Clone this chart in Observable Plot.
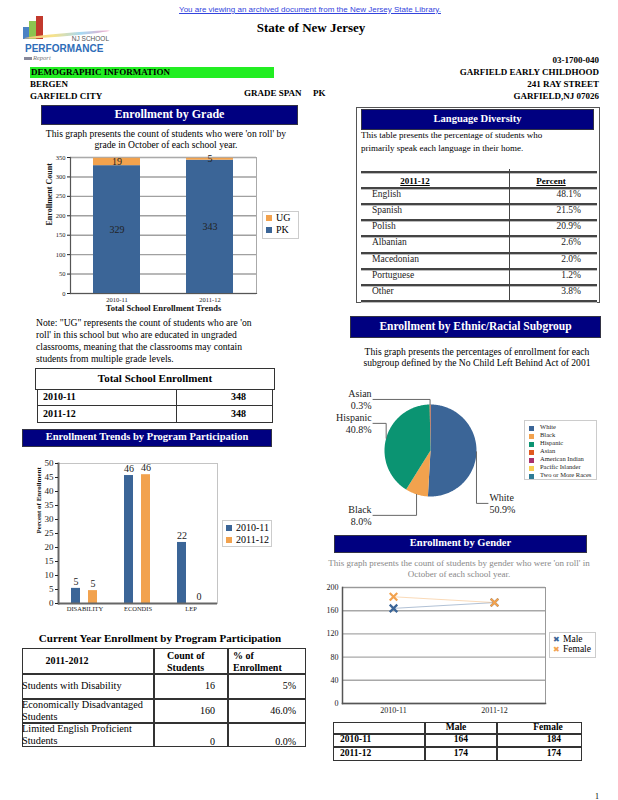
<!DOCTYPE html>
<html><head><meta charset="utf-8">
<script src="https://cdn.jsdelivr.net/npm/d3@7"></script>
<script src="https://cdn.jsdelivr.net/npm/@observablehq/plot@0.6"></script>
<style>
html,body{margin:0;padding:0;background:#fff;}
#page{position:relative;width:618px;height:800px;overflow:hidden;font-family:"Liberation Serif",serif;}
</style></head><body><div id="page"></div>
<script>
// ---------------- data ----------------
const gradeYears = ["2010-11", "2011-12"];
const gradeNames = ["PK", "UG"];
const gradePK = [329, 343];
const gradeUG = [19, 5];
const gradeTicks = [0, 50, 100, 150, 200, 250, 300, 350];

const totalYears = ["2010-11", "2011-12"];
const totalEnrollment = [348, 348];

const programs = ["DISABILITY", "ECONDIS", "LEP"];
const programYears = ["2010-11", "2011-12"];
const program2010 = [5.4, 45.7, 21.8];
const program2011 = [4.6, 46.0, 0];
const programTicks = [0, 5, 10, 15, 20, 25, 30, 35, 40, 45, 50];

const currentRowLabels = [["Students with Disability"], ["Economically Disadvantaged", "Students"], ["Limited English Proficient", "Students"]];
const currentCounts = [16, 160, 0];
const currentPercents = ["5%", "46.0%", "0.0%"];

const languages = ["English", "Spanish", "Polish", "Albanian", "Macedonian", "Portuguese", "Other"];
const languagePercents = ["48.1%", "21.5%", "20.9%", "2.6%", "2.0%", "1.2%", "3.8%"];

const ethnicGroups = ["White", "Black", "Hispanic", "Asian", "American Indian", "Pacific Islander", "Two or More Races"];
const ethnicPercents = [50.9, 8.0, 40.8, 0.3, 0, 0, 0];
const ethnicColors = ["#3b6597", "#f2a24e", "#0b9472", "#e0591f", "#a8306e", "#f7cf52", "#2e7b95"];

const genderYears = ["2010-11", "2011-12"];
const genderNames = ["Male", "Female"];
const maleCounts = [164, 174];
const femaleCounts = [184, 174];
const genderTicks = [0, 40, 80, 120, 160, 200];

// ---------------- style ----------------
const SERIF = '"Liberation Serif", "DejaVu Serif", serif';
const SANS = '"Liberation Sans", Arial, sans-serif';
const BLUE = "#3b6597", ORANGE = "#f2a24e", NAVY = "#000080";
const page = document.getElementById("page");

function T(text, x, y, o = {}) {
  const d = document.createElement("div");
  d.textContent = text;
  const S = o.size || 9;
  Object.assign(d.style, {
    position: "absolute", whiteSpace: "nowrap", fontFamily: o.font || SERIF,
    fontSize: S + "px", fontWeight: o.bold ? "bold" : "normal", fontStyle: o.italic ? "italic" : "normal",
    color: o.color || "#000", lineHeight: "1", top: (y - S * 0.55) + "px",
    textDecoration: o.underline ? "underline" : "none"
  });
  const a = o.anchor || "start";
  if (a === "start") d.style.left = x + "px";
  else if (a === "end") d.style.right = (618 - x) + "px";
  else { d.style.left = x + "px"; d.style.transform = "translateX(-50%)"; }
  page.appendChild(d);
  return d;
}
function R(x, y, w, h, st = {}) {
  const d = document.createElement("div");
  Object.assign(d.style, {position: "absolute", left: x + "px", top: y + "px", width: w + "px", height: h + "px", boxSizing: "border-box"}, st);
  page.appendChild(d);
  return d;
}
function place(node, x, y) {
  const d = document.createElement("div");
  Object.assign(d.style, {position: "absolute", left: x + "px", top: y + "px"});
  d.appendChild(node);
  page.appendChild(d);
}
function header(x, y, w, h, text, size) {
  R(x, y, w, h, {background: NAVY, border: "1px solid #334"});
  T(text, x + w / 2, y + h / 2, {size, bold: true, color: "#fff", anchor: "middle"});
}
const plotStyle = {fontFamily: SERIF, color: "#222", background: "transparent", overflow: "visible"};

// ---------------- page header ----------------
T("You are viewing an archived document from the New Jersey State Library.", 310, 10, {size: 8, font: SANS, color: "#3344dd", anchor: "middle", underline: true});
T("State of New Jersey", 311, 28, {size: 13, bold: true, anchor: "middle"});
// logo
R(23, 27, 6, 12, {background: "#4b82c4"});
R(29, 21, 7, 18, {background: "#8cc450"});
R(36, 16, 7, 23, {background: "#c2392d"});
R(24, 33, 86, 3, {background: "linear-gradient(90deg,#f5c07a,#f7e28a,#a6d8f2,#f2a8c8)", borderRadius: "50%", transform: "rotate(-5deg)"});
T("NJ SCHOOL", 109, 40, {size: 6.5, font: SANS, color: "#555", anchor: "end"});
T("PERFORMANCE", 25, 49.5, {size: 10, font: SANS, bold: true, color: "#2f6db8"});
T("Report", 33, 59, {size: 6.5, italic: true, color: "#777"});
R(24, 57, 8, 3, {background: "#889"});

R(30, 67, 244, 11, {background: "#22ee22"});
T("DEMOGRAPHIC INFORMATION", 31, 72.5, {size: 9, bold: true});
T("BERGEN", 30, 85, {size: 9, bold: true});
T("GARFIELD CITY", 30, 97, {size: 9, bold: true});
T("GRADE SPAN", 244, 94, {size: 9, bold: true});
T("PK", 313, 94, {size: 9, bold: true});
T("03-1700-040", 599, 61, {size: 9, bold: true, anchor: "end"});
T("GARFIELD EARLY CHILDHOOD", 599, 73, {size: 9, bold: true, anchor: "end"});
T("241 RAY STREET", 599, 85, {size: 9, bold: true, anchor: "end"});
T("GARFIELD,NJ 07026", 599, 97, {size: 9, bold: true, anchor: "end"});

// ---------------- Enrollment by Grade ----------------
header(41, 105, 257, 20, "Enrollment by Grade", 12);
T("This graph presents the count of students who were 'on roll' by", 166, 134, {size: 9.6, anchor: "middle"});
T("grade in October of each school year.", 166, 145.5, {size: 9.6, anchor: "middle"});

const gradeData = [];
gradeYears.forEach((yr, i) => {
  gradeData.push({year: yr, grade: "PK", count: gradePK[i]});
  gradeData.push({year: yr, grade: "UG", count: gradeUG[i]});
});
const gradeChart = Plot.plot({
  width: 235, height: 170, marginLeft: 40, marginRight: 9, marginTop: 7, marginBottom: 27,
  style: plotStyle,
  x: {domain: gradeYears, paddingInner: 0.5, paddingOuter: 0.25},
  y: {domain: [0, 350]},
  color: {domain: gradeNames, range: [BLUE, ORANGE]},
  marks: [
    Plot.gridY(gradeTicks, {stroke: "#a0a0a0", strokeOpacity: 1, strokeWidth: 1.4}),
    Plot.frame({stroke: "#aaa"}),
    Plot.barY(gradeData, {x: "year", y: "count", fill: "grade"}),
    Plot.text(gradeData, Plot.stackY({x: "year", y: "count", text: "count", fontSize: 10, fill: "#222"})),
    Plot.frame({anchor: "left", stroke: "#555", strokeWidth: 1.2}),
    Plot.frame({anchor: "bottom", stroke: "#555", strokeWidth: 1.2}),
    Plot.axisY(gradeTicks, {fontSize: 6.5, tickSize: 3, tickPadding: 2, label: null}),
    Plot.axisX({fontSize: 6.5, tickSize: 0, tickPadding: 4, label: null}),
    Plot.text(["Enrollment Count"], {frameAnchor: "left", rotate: -90, dx: -21, fontSize: 8, fontWeight: "bold", fill: "#111", text: d => d}),
    Plot.text(["Total School Enrollment Trends"], {frameAnchor: "bottom", dy: 17, fontSize: 8.5, fontWeight: "bold", fill: "#111", text: d => d})
  ]
});
place(gradeChart, 30, 150);
R(262, 211, 37, 28, {border: "1px solid #ccc", background: "#fff"});
R(266, 215, 6, 6, {background: ORANGE});
T("UG", 276, 218.5, {size: 10});
R(266, 227, 6, 6, {background: BLUE});
T("PK", 276, 230.5, {size: 10});

T("Note: \"UG\" represents the count of students who are 'on", 36, 323, {size: 9.6});
T("roll' in this school but who are educated in ungraded", 36, 335, {size: 9.6});
T("classrooms, meaning that the classrooms may contain", 36, 347, {size: 9.6});
T("students from multiple grade levels.", 36, 359, {size: 9.6});

// ---------------- Total School Enrollment table ----------------
R(35, 368, 240, 22, {border: "1.5px solid #333"});
T("Total School Enrollment", 155, 379, {size: 11, bold: true, anchor: "middle"});
const totalRowTops = [389, 405];
totalYears.forEach((yr, i) => {
  const top = totalRowTops[i], h = i === 0 ? 17 : 18;
  R(37, top, 140, h, {border: "1.5px solid #333"});
  R(175.5, top, 97, h, {border: "1.5px solid #333"});
  T(yr, 43, top + h / 2, {size: 10, bold: true});
  T(String(totalEnrollment[i]), 246, top + h / 2, {size: 10, bold: true, anchor: "end"});
});

// ---------------- Enrollment Trends by Program Participation ----------------
header(22, 429, 250, 18, "Enrollment Trends by Program Participation", 10.5);
const programData = [];
programs.forEach((p, i) => {
  programData.push({program: p, year: programYears[0], value: program2010[i]});
  programData.push({program: p, year: programYears[1], value: program2011[i]});
});
const programChart = Plot.plot({
  width: 200, height: 160, marginLeft: 37, marginRight: 3, marginTop: 8, marginBottom: 12,
  style: plotStyle,
  fx: {domain: programs, padding: 0},
  x: {domain: programYears, paddingInner: 0.45, paddingOuter: 0.7, axis: null},
  y: {domain: [0, 50]},
  color: {domain: programYears, range: [BLUE, ORANGE]},
  marks: [
    Plot.frame({facet: "super", stroke: "#c4c4c4"}),
    Plot.barY(programData, {fx: "program", x: "year", y: "value", fill: "year"}),
    Plot.text(programData, {fx: "program", x: "year", y: "value", text: d => String(Math.round(d.value)), dy: -7, fontSize: 10, fill: "#222"}),
    Plot.ruleY([0], {stroke: "#666", strokeWidth: 2}),
    Plot.frame({facet: "super", anchor: "left", stroke: "#666", strokeWidth: 2}),
    Plot.axisY(programTicks, {fontSize: 9, tickSize: 3, tickPadding: 2, label: null}),
    Plot.axisFx({anchor: "bottom", fontSize: 6.5, tickSize: 0, tickPadding: 3, label: null}),
    Plot.text(["Percent of Enrollment"], {facet: "super", frameAnchor: "left", rotate: -90, dx: -20, fontSize: 7, fontWeight: "bold", fill: "#111", text: d => d})
  ]
});
place(programChart, 20, 455);
R(222, 520, 50, 27, {border: "1px solid #ccc", background: "#fff"});
R(226, 525, 6, 6, {background: BLUE});
T("2010-11", 236, 528, {size: 10});
R(226, 537, 6, 6, {background: ORANGE});
T("2011-12", 236, 540, {size: 10});

// ---------------- Current Year Enrollment table ----------------
T("Current Year Enrollment by Program Participation", 160, 639, {size: 11, bold: true, anchor: "middle"});
const cx = [22, 154, 228, 306];
const cy = [648, 674, 699, 723, 747];
R(22, 648, 284, 99, {border: "1.5px solid #333"});
cy.slice(1, 4).forEach(y => R(22, y - 0.75, 284, 1.5, {background: "#333"}));
cx.slice(1, 3).forEach(x => R(x - 0.75, 648, 1.5, 99, {background: "#333"}));
T("2011-2012", 67, 661, {size: 10, bold: true, anchor: "middle"});
T("Count of", 167, 656, {size: 10, bold: true});
T("Students", 167, 668.5, {size: 10, bold: true});
T("% of", 233, 656, {size: 10, bold: true});
T("Enrollment", 233, 668.5, {size: 10, bold: true});
currentRowLabels.forEach((lines, i) => {
  const top = cy[i + 1], bot = cy[i + 2], mid = (top + bot) / 2;
  if (lines.length === 1) T(lines[0], 22, 687, {size: 10.3});
  else { T(lines[0], 22, top + 6.5, {size: 10.3}); T(lines[1], 22, top + 18.5, {size: 10.3}); }
  const vy = i === 0 ? 686 : (i === 1 ? mid : 742);
  T(String(currentCounts[i]), 215, vy, {size: 10, anchor: "end"});
  T(currentPercents[i], 296, vy, {size: 10, anchor: "end"});
});

// ---------------- Language Diversity ----------------
R(356, 107, 244, 196, {border: "1.5px solid #555"});
header(361, 109, 233, 21, "Language Diversity", 10.5);
T("This table presents the percentage of students who", 361, 136, {size: 9});
T("primarily speak each language in their home.", 361, 149, {size: 9});
const langLines = [172, 188, 204, 220, 236, 253, 269, 285, 301];
langLines.forEach(y => R(361, y - 1, 236, 2, {background: "#444", boxShadow: "0 1px 0 #bbb"}));
R(508.5, 169, 1.5, 132, {background: "#444"});
T("2011-12", 415, 182, {size: 9, bold: true, anchor: "middle", underline: true});
T("Percent", 551, 182, {size: 9, bold: true, anchor: "middle", underline: true});
languages.forEach((lang, i) => {
  const mid = (langLines[i + 1] + langLines[i + 2]) / 2;
  T(lang, 372, mid - 1, {size: 9.5, color: "#222"});
  T(languagePercents[i], 581, mid - 1, {size: 9.5, anchor: "end", color: "#222"});
});

// ---------------- Ethnic / Racial ----------------
header(350, 316, 251, 22, "Enrollment by Ethnic/Racial Subgroup", 11.5);
T("This graph presents the percentages of enrollment for each", 477, 352, {size: 9.6, anchor: "middle"});
T("subgroup defined by the No Child Left Behind Act of 2001", 477, 363.5, {size: 9.6, anchor: "middle"});

const ethnicData = ethnicGroups.map((g, i) => ({group: g, pct: ethnicPercents[i]}));
const arcs = d3.pie().sort(null).value(d => d.pct)(ethnicData).filter(a => a.data.pct > 0);
const piePts = [];
arcs.forEach(a => {
  const n = Math.max(2, Math.ceil((a.endAngle - a.startAngle) / (Math.PI / 180)));
  piePts.push({group: a.data.group, x: 0, y: 0});
  for (let k = 0; k <= n; k++) {
    const t = a.startAngle + (a.endAngle - a.startAngle) * k / n;
    piePts.push({group: a.data.group, x: Math.sin(t), y: Math.cos(t)});
  }
  piePts.push({group: a.data.group, x: 0, y: 0});
});
// label layout (side of the pie, height of the label in radii)
const pieLabelLayout = {White: {side: 1, ly: -1.15}, Black: {side: -1, ly: -1.41}, Hispanic: {side: -1, ly: 0.59}, Asian: {side: -1, ly: 1.11}};
const leaderPts = [], pieLabels = [];
arcs.forEach(a => {
  const g = a.data.group, L = pieLabelLayout[g];
  if (!L) return;
  const m = (a.startAngle + a.endAngle) / 2;
  const ax = Math.sin(m), ay = Math.cos(m);
  const end = L.side * 1.25;
  let pts;
  if (Math.abs(L.ly) > Math.abs(ay) && Math.sign(L.ly) === Math.sign(ay)) pts = [[ax, ay], [ax, L.ly], [end, L.ly]];
  else pts = [[L.side * Math.sqrt(1 - L.ly * L.ly), L.ly], [end, L.ly]];
  pts.forEach(p => leaderPts.push({group: g, x: p[0], y: p[1]}));
  pieLabels.push({group: g, side: L.side, x: L.side * 1.28, y: L.ly, text: `${g}\n${a.data.pct.toFixed(1)}%`});
});
const pieChart = Plot.plot({
  width: 200, height: 145, margin: 0,
  style: plotStyle,
  x: {domain: [-100 / 46, 100 / 46], axis: null},
  y: {domain: [-80 / 46, 65 / 46], axis: null},
  color: {domain: ethnicGroups, range: ethnicColors},
  marks: [
    Plot.line(piePts, {x: "x", y: "y", z: "group", fill: "group", stroke: "none"}),
    Plot.line(leaderPts, {x: "x", y: "y", z: "group", stroke: "#666", strokeWidth: 1}),
    Plot.text(pieLabels.filter(d => d.side < 0), {x: "x", y: "y", text: "text", textAnchor: "end", lineAnchor: "middle", lineHeight: 1.18, fontSize: 10, fill: "#222"}),
    Plot.text(pieLabels.filter(d => d.side > 0), {x: "x", y: "y", text: "text", textAnchor: "start", lineAnchor: "middle", lineHeight: 1.18, fontSize: 10, fill: "#222"})
  ]
});
place(pieChart, 330, 385);
R(524, 420, 73, 60, {border: "1px solid #ccc", background: "#fff"});
ethnicGroups.forEach((g, i) => {
  const y = 428 + i * 8;
  R(529, y - 2.5, 5, 5, {background: ethnicColors[i]});
  T(g, 540, y, {size: 6.5, color: "#222"});
});

// ---------------- Enrollment by Gender ----------------
header(334, 535, 253, 18, "Enrollment by Gender", 10.5);
T("This graph presents the count of students by gender who were 'on roll' in", 459, 564, {size: 9, anchor: "middle", color: "#888"});
T("October of each school year.", 459, 575, {size: 9, anchor: "middle", color: "#888"});
const genderData = [];
genderYears.forEach((yr, i) => {
  genderData.push({year: yr, sex: "Male", count: maleCounts[i]});
  genderData.push({year: yr, sex: "Female", count: femaleCounts[i]});
});
const genderChart = Plot.plot({
  width: 232, height: 140, marginLeft: 24, marginRight: 5, marginTop: 7, marginBottom: 17,
  style: plotStyle,
  x: {type: "point", domain: genderYears, padding: 0.5},
  y: {domain: [0, 200]},
  color: {domain: genderNames, range: [BLUE, ORANGE]},
  marks: [
    Plot.gridY(genderTicks, {stroke: "#a8a8a8", strokeOpacity: 1, strokeWidth: 1.4}),
    Plot.frame({stroke: "#999"}),
    Plot.frame({anchor: "left", stroke: "#555", strokeWidth: 1.5}),
    Plot.frame({anchor: "bottom", stroke: "#555", strokeWidth: 1.5}),
    Plot.line(genderData, {x: "year", y: "count", stroke: "sex", strokeWidth: 0.8, strokeOpacity: 0.5}),
    Plot.dot(genderData, {x: "year", y: "count", stroke: "sex", symbol: "times", r: 3.5, strokeWidth: 2.2}),
    Plot.axisY(genderTicks, {fontSize: 8, tickSize: 0, tickPadding: 4, label: null}),
    Plot.axisX({fontSize: 8, tickSize: 0, tickPadding: 4, label: null})
  ]
});
place(genderChart, 318, 580);
R(549, 632, 47, 26, {border: "1px solid #ccc", background: "#fff"});
T("✖", 553, 640, {size: 8, color: BLUE, font: '"DejaVu Sans", sans-serif'});
T("Male", 563, 640, {size: 9.5});
T("✖", 553, 650.5, {size: 8, color: ORANGE, font: '"DejaVu Sans", sans-serif'});
T("Female", 563, 650.5, {size: 9.5});

// gender table
R(333, 722, 249, 39, {border: "1.5px solid #333"});
[734, 747].forEach(y => R(333, y - 0.75, 249, 1.5, {background: "#333"}));
[425, 497].forEach(x => R(x - 0.75, 722, 1.5, 39, {background: "#333"}));
T("Male", 456, 728.5, {size: 9.5, bold: true, anchor: "middle"});
T("Female", 548, 728.5, {size: 9.5, bold: true, anchor: "middle"});
genderYears.forEach((yr, i) => {
  const mid = i === 0 ? 740.5 : 754;
  T(yr, 340, mid, {size: 9.5, bold: true});
  T(String(maleCounts[i]), 468, mid, {size: 9.5, bold: true, anchor: "end"});
  T(String(femaleCounts[i]), 561, mid, {size: 9.5, bold: true, anchor: "end"});
});

T("1", 599, 797, {size: 8, anchor: "end"});
</script></body></html>
